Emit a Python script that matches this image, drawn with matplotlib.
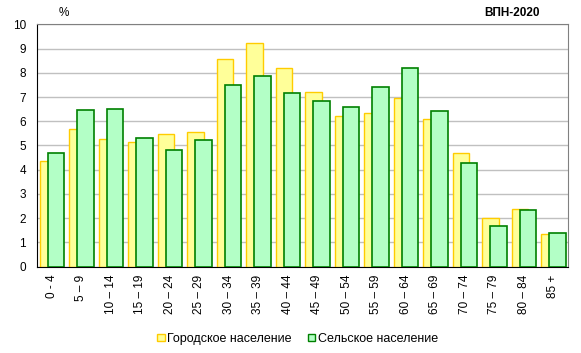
import numpy as np
import matplotlib.pyplot as plt
from matplotlib.patches import Patch

plt.rcParams['font.family'] = ['Liberation Sans', 'DejaVu Sans']

age_groups = ['0 - 4', '5 – 9', '10 – 14', '15 – 19', '20 – 24', '25 – 29',
              '30 – 34', '35 – 39', '40 – 44', '45 – 49', '50 – 54', '55 – 59',
              '60 – 64', '65 – 69', '70 – 74', '75 – 79', '80 – 84', '85 +']
urban = [4.34, 5.66, 5.25, 5.13, 5.46, 5.54, 8.55, 9.22, 8.18,
         7.19, 6.20, 6.33, 6.94, 6.08, 4.67, 1.99, 2.36, 1.33]
rural = [4.67, 6.45, 6.49, 5.29, 4.80, 5.21, 7.48, 7.85, 7.15,
         6.82, 6.57, 7.40, 8.18, 6.41, 4.26, 1.66, 2.32, 1.37]

urban_face, urban_edge = '#ffff99', '#ffcc00'
rural_face, rural_edge = '#b3ffc6', '#008000'

fig = plt.figure(figsize=(5.81, 3.53), dpi=100)
ax = fig.add_axes([0.064, 0.245, 0.914, 0.686])

x = np.arange(len(age_groups))
w = 0.56
ax.bar(x - 0.13, urban, w, color=urban_face, edgecolor=urban_edge, linewidth=1, zorder=2)
ax.bar(x + 0.14, rural, w, color=rural_face, edgecolor=rural_edge, linewidth=1.2, zorder=3)

ax.set_xlim(-0.5, len(age_groups) - 0.5)
ax.set_ylim(0, 10)
ax.set_yticks(range(0, 11))
ax.yaxis.grid(True, color='#c0c0c0', linewidth=1, zorder=0)
ax.set_axisbelow(True)
ax.set_xticks(x)
ax.set_xticklabels(age_groups, rotation=90, ha='center', va='top', fontsize=8.5)
ax.tick_params(axis='both', length=0, labelsize=8.5)
ax.tick_params(axis='x', pad=6)
ax.tick_params(axis='y', pad=8)

for s in ['top', 'right']:
    ax.spines[s].set_color('#808080')
for s in ['left', 'bottom']:
    ax.spines[s].set_color('black')

fig.text(0.11, 0.962, '%', ha='center', va='center', fontsize=8.5)
fig.text(0.882, 0.962, 'ВПН-2020', ha='center', va='center', fontsize=8.5, fontweight='bold')

handles = [Patch(facecolor=urban_face, edgecolor=urban_edge, label='Городское население'),
           Patch(facecolor=rural_face, edgecolor=rural_edge, label='Сельское население')]
fig.legend(handles=handles, loc='center', bbox_to_anchor=(0.512, 0.04), ncol=2, frameon=False,
           fontsize=9, handlelength=0.6, handleheight=0.6, handletextpad=0.2, columnspacing=1.3)

fig.savefig('out.png', dpi=100)
